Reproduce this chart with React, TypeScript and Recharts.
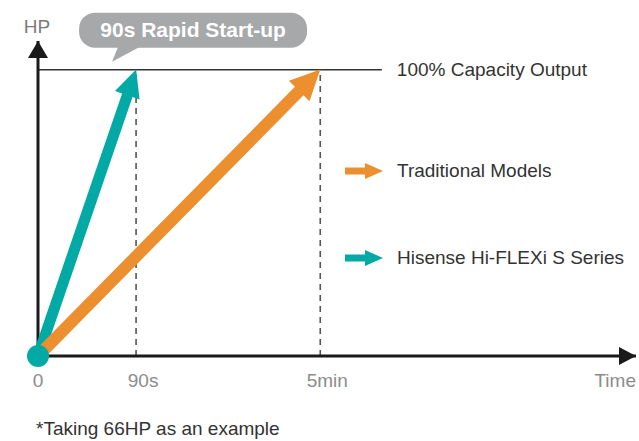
import { LineChart, Line, XAxis, YAxis, ReferenceLine, ReferenceDot, Legend } from 'recharts';

// schematic time axis: 0..100 along the arrow, not to scale
const timeLabels = ['0', '90s', '5min', 'Time'];
const timeTicks = [0, 16.4, 47.2, 100];

const capacity = 100; // % output
const capacityLineEnd = 57.5;

const hisenseTime = [0, 16.4];
const hisenseHP = [0, 100];
const traditionalTime = [0, 47.2];
const traditionalHP = [0, 100];

const TEAL = '#03a9a4';
const ORANGE = '#ec8f2f';
const FONT = '"Liberation Sans", Arial, Helvetica, sans-serif';

const hisenseData = hisenseTime.map((x, i) => ({ x, hp: hisenseHP[i] }));
const traditionalData = traditionalTime.map((x, i) => ({ x, hp: traditionalHP[i] }));

function arrowPath(x0: number, y0: number, x1: number, y1: number, head: number, wing: number, shaft: number) {
  const len = Math.hypot(x1 - x0, y1 - y0) || 1;
  const ux = (x1 - x0) / len;
  const uy = (y1 - y0) / len;
  const nx = -uy;
  const ny = ux;
  const bx = x1 - ux * head;
  const by = y1 - uy * head;
  const pts = [
    [x0 + nx * shaft, y0 + ny * shaft],
    [bx + nx * shaft, by + ny * shaft],
    [bx + nx * wing, by + ny * wing],
    [x1, y1],
    [bx - nx * wing, by - ny * wing],
    [bx - nx * shaft, by - ny * shaft],
    [x0 - nx * shaft, y0 - ny * shaft],
  ];
  return 'M' + pts.map((p) => p[0].toFixed(1) + ',' + p[1].toFixed(1)).join('L') + 'Z';
}

// arrow drawn from the first point to the last one
const makeArrowDot = (color: string, head: number, wing: number, shaft: number) => (props: any) => {
  const { cx, cy, index, points } = props;
  if (!points || index !== points.length - 1) return <g key={`d-${index}`} />;
  const start = points[0];
  return <path key={`d-${index}`} d={arrowPath(start.x, start.y, cx, cy, head, wing, shaft)} fill={color} />;
};

const TimeTick = (props: any) => {
  const { x, y, payload } = props;
  const i = timeTicks.indexOf(payload.value);
  const last = i === timeTicks.length - 1;
  const shift = i === 0 || last ? 0 : 7;
  return (
    <text x={x + shift} y={y} dy={23} textAnchor={last ? 'end' : 'middle'} fill="#8c8c8c" fontSize={19} fontFamily={FONT}>
      {timeLabels[i]}
    </text>
  );
};

const Bubble = (props: any) => {
  const { cx, cy } = props;
  return (
    <g>
      <rect x={cx - 57} y={cy - 57} width={228} height={35} rx={16} fill="#a7a8aa" />
      <path d={`M${cx - 18},${cy - 23} L${cx + 4},${cy - 23} L${cx - 24},${cy - 8} Z`} fill="#a7a8aa" />
      <text x={cx + 57} y={cy - 33} textAnchor="middle" fill="#fff" fontSize={21} fontWeight={600} fontFamily={FONT}>
        90s Rapid Start-up
      </text>
    </g>
  );
};

const RightHead = (props: any) => {
  const { cx, cy } = props;
  return <path d={`M${cx},${cy} L${cx - 17},${cy - 9} L${cx - 17},${cy + 9} Z`} fill="#1a1a1a" />;
};

const UpHead = (props: any) => {
  const { cx, cy } = props;
  return <path d={`M${cx},${cy} L${cx - 10},${cy + 17} L${cx + 10},${cy + 17} Z`} fill="#1a1a1a" />;
};

const OriginDisc = (props: any) => {
  const { cx, cy } = props;
  return <circle cx={cx} cy={cy} r={11} fill={TEAL} />;
};

const renderLegend = (props: any) => {
  const items = [...(props.payload ?? [])].reverse();
  return (
    <div style={{ fontFamily: FONT }}>
      {items.map((it: any) => (
        <div key={it.value} style={{ display: 'flex', alignItems: 'center', height: 22, marginBottom: 65 }}>
          <svg width={38} height={18}>
            <rect x={0} y={5.5} width={22} height={7} fill={it.color} />
            <path d="M20,1 L38,9 L20,17 Z" fill={it.color} />
          </svg>
          <span style={{ marginLeft: 14, fontSize: 19, color: '#333', lineHeight: '22px' }}>{it.value}</span>
        </div>
      ))}
    </div>
  );
};

export default function App() {
  return (
    <div style={{ position: 'absolute', left: 0, top: 0, width: 639, height: 441, background: '#fff', fontFamily: FONT }}>
      <LineChart width={639} height={441} margin={{ top: 41, right: 3, bottom: 55, left: 36 }}>
        <XAxis
          type="number"
          dataKey="x"
          domain={[0, 100]}
          ticks={timeTicks}
          tick={<TimeTick />}
          tickLine={false}
          axisLine={{ stroke: '#1a1a1a', strokeWidth: 3 }}
          height={30}
          interval={0}
        />
        <YAxis
          type="number"
          dataKey="hp"
          domain={[0, 110]}
          width={2}
          tick={false}
          tickLine={false}
          axisLine={{ stroke: '#1a1a1a', strokeWidth: 3 }}
          label={{ value: 'HP', position: 'top', offset: 8, fill: '#7a7a7a', fontSize: 19, fontFamily: FONT }}
        />
        <ReferenceLine
          segment={[{ x: 0, y: capacity }, { x: capacityLineEnd, y: capacity }]}
          stroke="#333"
          strokeWidth={1.5}
          label={{ value: '100% Capacity Output', position: 'right', offset: 15, fill: '#333', fontSize: 19, fontFamily: FONT }}
        />
        <ReferenceLine
          segment={[{ x: hisenseTime[1], y: 0 }, { x: hisenseTime[1], y: capacity }]}
          stroke="#555"
          strokeWidth={1.6}
          strokeDasharray="6 5"
        />
        <ReferenceLine
          segment={[{ x: traditionalTime[1], y: 0 }, { x: traditionalTime[1], y: capacity }]}
          stroke="#555"
          strokeWidth={1.6}
          strokeDasharray="6 5"
        />
        <ReferenceDot x={100} y={0} r={1} shape={<RightHead />} />
        <ReferenceDot x={0} y={110} r={1} shape={<UpHead />} />
        <Line
          data={hisenseData}
          dataKey="hp"
          name="Hisense Hi-FLEXi S Series"
          stroke={TEAL}
          strokeOpacity={0}
          dot={makeArrowDot(TEAL, 27, 13, 5.5)}
          activeDot={false}
          isAnimationActive={false}
        />
        <Line
          data={traditionalData}
          dataKey="hp"
          name="Traditional Models"
          stroke={ORANGE}
          strokeOpacity={0}
          dot={makeArrowDot(ORANGE, 30, 14.5, 6)}
          activeDot={false}
          isAnimationActive={false}
        />
        <ReferenceDot x={hisenseTime[0]} y={hisenseHP[0]} r={11} ifOverflow="visible" zIndex={2000} shape={<OriginDisc />} />
        <ReferenceDot x={hisenseTime[1]} y={capacity} r={1} shape={<Bubble />} />
        <Legend
          layout="vertical"
          align="center"
          verticalAlign="middle"
          content={renderLegend}
          wrapperStyle={{ position: 'absolute', left: 345, top: 160, width: 290 }}
        />
      </LineChart>
      <div style={{ position: 'absolute', left: 36, top: 418, fontSize: 19, color: '#333', whiteSpace: 'nowrap' }}>
        *Taking 66HP as an example
      </div>
    </div>
  );
}
